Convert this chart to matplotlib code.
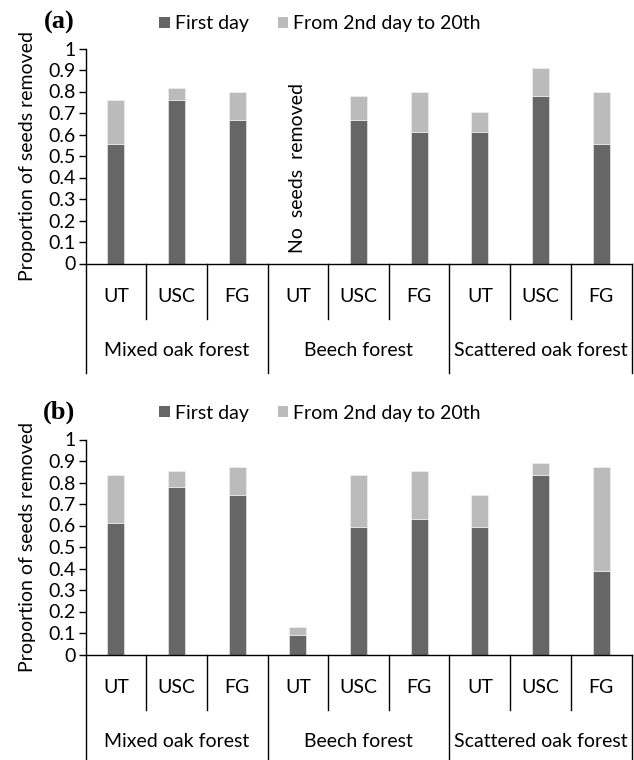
import matplotlib
matplotlib.use("Agg")
import matplotlib.pyplot as plt
from matplotlib.patches import Patch
from matplotlib.transforms import blended_transform_factory

groups = ["Mixed oak forest", "Beech forest", "Scattered oak forest"]
subcats = ["UT", "USC", "FG"]

# Panel (a)
first_a = [0.556, 0.759, 0.667, 0.0, 0.667, 0.611, 0.611, 0.778, 0.556]
total_a = [0.759, 0.815, 0.796, 0.0, 0.778, 0.796, 0.704, 0.907, 0.796]
# Panel (b)
first_b = [0.611, 0.778, 0.741, 0.089, 0.593, 0.630, 0.593, 0.833, 0.389]
total_b = [0.833, 0.852, 0.870, 0.128, 0.833, 0.852, 0.741, 0.889, 0.870]

legend_labels = ["First day", "From 2nd day to 20th"]
yticks = [0, 0.1, 0.2, 0.3, 0.4, 0.5, 0.6, 0.7, 0.8, 0.9, 1]
ytick_labels = ["0", "0.1", "0.2", "0.3", "0.4", "0.5", "0.6", "0.7", "0.8", "0.9", "1"]

DARK = "#666666"
LIGHT = "#bbbbbb"
FONT = "Lato"
FS = 14

W, H = 634, 760
fig = plt.figure(figsize=(W / 100, H / 100), dpi=100)


def panel(top_px, bottom_px, first, total, tag, tag_y_px, legend_y_px, annotate=False):
    left = 85.5 / W
    right = 631.5 / W
    ax = fig.add_axes([left, 1 - bottom_px / H, right - left, (bottom_px - top_px) / H])
    n = len(first)
    x = list(range(n))
    second = [t - f for t, f in zip(total, first)]
    ax.bar(x, first, width=0.28, color=DARK, edgecolor="#f4f4f4", linewidth=0.4, zorder=2)
    ax.bar(x, second, bottom=first, width=0.28, color=LIGHT, edgecolor="#f4f4f4",
           linewidth=0.4, zorder=2)
    ax.set_xlim(-0.5, n - 0.5)
    ax.set_ylim(0, 1)
    ax.set_yticks(yticks)
    ax.set_yticklabels(ytick_labels, fontsize=FS, family=FONT)
    ax.set_xticks([])
    for s in ["top", "right"]:
        ax.spines[s].set_visible(False)
    ax.spines["left"].set_linewidth(1.0)
    ax.spines["bottom"].set_linewidth(1.0)
    ax.tick_params(axis="y", direction="out", length=5, width=1.0, pad=2)
    ax.set_ylabel("Proportion of seeds removed", fontsize=FS, family=FONT, labelpad=9)

    h = bottom_px - top_px
    tr = blended_transform_factory(ax.transData, ax.transAxes)
    sub_end = -55 / h
    grp_end = -109 / h
    # separators
    for b in range(n + 1):
        xb = b - 0.5
        yend = grp_end if b % 3 == 0 else sub_end
        ax.plot([xb, xb], [0, yend], transform=tr, color="black", lw=1.0, clip_on=False)
    for i in range(n):
        ax.text(i, -33 / h, subcats[i % 3], transform=tr, ha="center", va="center",
                fontsize=FS, family=FONT)
    for g in range(len(groups)):
        ax.text(3 * g + 1, -87 / h, groups[g], transform=tr, ha="center", va="center",
                fontsize=FS, family=FONT)
    if annotate:
        ax.text(3, 0.05, "No  seeds  removed", rotation=90, ha="center", va="bottom",
                fontsize=FS, family=FONT)

    fig.text(59 / W, 1 - tag_y_px / H, tag, fontsize=19, fontweight="bold",
             family="Liberation Serif", ha="center", va="center")
    handles = [Patch(facecolor=DARK, edgecolor="none"), Patch(facecolor=LIGHT, edgecolor="none")]
    fig.legend(handles, legend_labels, loc="center", bbox_to_anchor=(320 / W, 1 - legend_y_px / H),
               ncol=2, frameon=False, prop={"family": FONT, "size": FS},
               handlelength=0.55, handleheight=0.55, handletextpad=0.25, columnspacing=1.5,
               borderaxespad=0, borderpad=0)
    return ax


panel(48.5, 263.5, first_a, total_a, "(a)", 22, 24, annotate=True)
panel(439.5, 654.5, first_b, total_b, "(b)", 412, 413)

fig.savefig("out.png", dpi=100)
